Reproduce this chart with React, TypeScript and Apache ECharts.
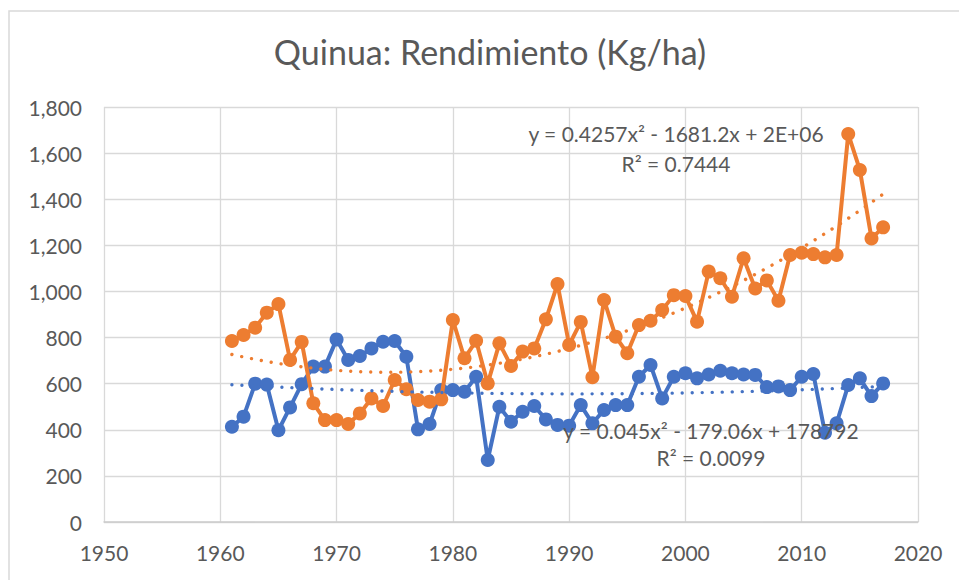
import React, { useEffect, useRef } from "react";
import * as echarts from "echarts";

const years = [
  1961, 1962, 1963, 1964, 1965, 1966, 1967, 1968, 1969, 1970,
  1971, 1972, 1973, 1974, 1975, 1976, 1977, 1978, 1979, 1980,
  1981, 1982, 1983, 1984, 1985, 1986, 1987, 1988, 1989, 1990,
  1991, 1992, 1993, 1994, 1995, 1996, 1997, 1998, 1999, 2000,
  2001, 2002, 2003, 2004, 2005, 2006, 2007, 2008, 2009, 2010,
  2011, 2012, 2013, 2014, 2015, 2016, 2017,
];

const blueYield = [
  413, 457, 600, 596, 398, 497, 598, 674, 674, 792,
  703, 720, 753, 782, 785, 717, 402, 425, 572, 572,
  565, 630, 269, 500, 435, 478, 503, 445, 421, 418,
  507, 428, 486, 507, 507, 630, 681, 536, 630, 645,
  623, 640, 656, 645, 640, 638, 585, 588, 572, 630,
  642, 387, 428, 594, 623, 546, 601,
];

const orangeYield = [
  785, 811, 843, 908, 945, 703, 781, 515, 442, 442,
  425, 471, 536, 503, 616, 576, 529, 522, 532, 876,
  710, 786, 601, 775, 677, 739, 753, 879, 1032, 768,
  868, 628, 963, 804, 732, 854, 873, 919, 984, 980,
  869, 1086, 1057, 977, 1144, 1013, 1048, 960, 1158, 1168,
  1162, 1148, 1158, 1683, 1527, 1230, 1278,
];

const titleText = "Quinua: Rendimiento (Kg/ha)";
const orangeEq = "y = 0.4257x² - 1681.2x + 2E+06";
const orangeR2 = "R² = 0.7444";
const blueEq = "y = 0.045x² - 179.06x + 178792";
const blueR2 = "R² = 0.0099";

const X_MIN = 1950;
const X_MAX = 2020;
const X_STEP = 10;
const Y_MIN = 0;
const Y_MAX = 1800;
const Y_STEP = 200;

const BLUE = "#4472C4";
const ORANGE = "#ED7D31";
const GRID = "#d9d9d9";
const TEXT = "#595959";
const FONT = "Lato";

// Quadratic least-squares fit (like an Excel order-2 polynomial trendline)
function quadFit(xs: number[], ys: number[]) {
  const n = xs.length;
  const x0 = xs.reduce((a, b) => a + b, 0) / n;
  let s0 = 0, s1 = 0, s2 = 0, s3 = 0, s4 = 0, t0 = 0, t1 = 0, t2 = 0;
  for (let i = 0; i < n; i++) {
    const t = xs[i] - x0;
    const y = ys[i];
    s0 += 1; s1 += t; s2 += t * t; s3 += t * t * t; s4 += t * t * t * t;
    t0 += y; t1 += y * t; t2 += y * t * t;
  }
  const det = (m: number[][]) =>
    m[0][0] * (m[1][1] * m[2][2] - m[1][2] * m[2][1]) -
    m[0][1] * (m[1][0] * m[2][2] - m[1][2] * m[2][0]) +
    m[0][2] * (m[1][0] * m[2][1] - m[1][1] * m[2][0]);
  const M = [
    [s0, s1, s2],
    [s1, s2, s3],
    [s2, s3, s4],
  ];
  const D = det(M);
  const rhs = [t0, t1, t2];
  const coef = [0, 1, 2].map((k) => {
    const Mk = M.map((row, r) => row.map((v, c) => (c === k ? rhs[r] : v)));
    return det(Mk) / D;
  });
  return (x: number) => {
    const t = x - x0;
    return coef[0] + coef[1] * t + coef[2] * t * t;
  };
}

function trendPoints(xs: number[], ys: number[]) {
  const f = quadFit(xs, ys);
  const pts: number[][] = [];
  const first = xs[0];
  const last = xs[xs.length - 1];
  for (let x = first; x <= last + 1e-9; x += 0.5) pts.push([x, f(x)]);
  return pts;
}

export default function App() {
  const ref = useRef<HTMLDivElement>(null);

  useEffect(() => {
    if (!ref.current) return;
    const chart = echarts.init(ref.current, undefined, { renderer: "svg" });

    const blueData = years.map((y, i) => [y, blueYield[i]]);
    const orangeData = years.map((y, i) => [y, orangeYield[i]]);

    const dotted = (color: string) => ({
      color,
      width: 3.4,
      type: [0.01, 10] as any,
      cap: "round" as const,
    });

    chart.setOption({
      animation: false,
      backgroundColor: "#ffffff",
      textStyle: { fontFamily: FONT },
      grid: { left: 104, right: 41, top: 107, bottom: 58, containLabel: false },
      xAxis: {
        type: "value",
        min: X_MIN,
        max: X_MAX,
        interval: X_STEP,
        axisLine: { show: true, onZero: false, lineStyle: { color: "#cccccc", width: 1.5 } },
        axisTick: { show: false },
        splitLine: { show: true, lineStyle: { color: GRID, width: 1.3 } },
        axisLabel: {
          color: TEXT,
          fontSize: 21,
          fontFamily: FONT,
          margin: 20,
          formatter: (v: number) => String(v),
        },
      },
      yAxis: {
        type: "value",
        min: Y_MIN,
        max: Y_MAX,
        interval: Y_STEP,
        axisLine: { show: false },
        axisTick: { show: false },
        splitLine: { show: true, lineStyle: { color: GRID, width: 1.3 } },
        axisLabel: {
          color: TEXT,
          fontSize: 21,
          fontFamily: FONT,
          margin: 22,
          formatter: (v: number) => v.toLocaleString("en-US"),
        },
      },
      series: [
        {
          name: "Serie 1",
          type: "line",
          data: blueData,
          symbol: "circle",
          symbolSize: 14,
          itemStyle: { color: BLUE },
          lineStyle: { color: BLUE, width: 4 },
          z: 2,
        },
        {
          name: "Serie 2",
          type: "line",
          data: orangeData,
          symbol: "circle",
          symbolSize: 14,
          itemStyle: { color: ORANGE },
          lineStyle: { color: ORANGE, width: 4 },
          z: 3,
        },
        {
          name: "Tendencia 1",
          type: "line",
          data: trendPoints(years, blueYield),
          symbol: "none",
          smooth: false,
          lineStyle: dotted(BLUE),
          z: 4,
        },
        {
          name: "Tendencia 2",
          type: "line",
          data: trendPoints(years, orangeYield),
          symbol: "none",
          smooth: false,
          lineStyle: dotted(ORANGE),
          z: 4,
        },
      ],
      graphic: [
        {
          type: "rect",
          z: -10,
          shape: { x: 9, y: 11, width: 1000, height: 620 },
          style: { fill: "none", stroke: "#d9d9d9", lineWidth: 1.5 },
        },
        {
          type: "text",
          x: 490,
          y: 51,
          style: {
            text: titleText,
            fill: TEXT,
            font: `34px ${FONT}`,
            textAlign: "center",
            textVerticalAlign: "middle",
          },
        },
        {
          type: "text",
          x: 676,
          y: 133,
          z: 10,
          style: { text: orangeEq, fill: TEXT, font: `21px ${FONT}`, textAlign: "center", textVerticalAlign: "middle" },
        },
        {
          type: "text",
          x: 676,
          y: 163,
          z: 10,
          style: { text: orangeR2, fill: TEXT, font: `21px ${FONT}`, textAlign: "center", textVerticalAlign: "middle" },
        },
        {
          type: "text",
          x: 711,
          y: 430,
          z: 10,
          style: { text: blueEq, fill: TEXT, font: `21px ${FONT}`, textAlign: "center", textVerticalAlign: "middle" },
        },
        {
          type: "text",
          x: 711,
          y: 457,
          z: 10,
          style: { text: blueR2, fill: TEXT, font: `21px ${FONT}`, textAlign: "center", textVerticalAlign: "middle" },
        },
      ],
    });

    return () => chart.dispose();
  }, []);

  return (
    <div
      ref={ref}
      style={{ position: "fixed", left: 0, top: 0, width: 959, height: 580 }}
    />
  );
}
